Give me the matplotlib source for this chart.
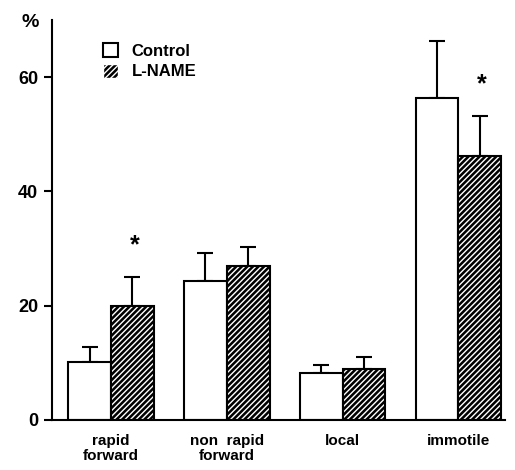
import matplotlib.pyplot as plt
import numpy as np

categories = ["rapid\nforward", "non  rapid\nforward", "local", "immotile"]
control = [10.1, 24.3, 8.2, 56.4]
control_err = [2.6, 5.0, 1.4, 9.9]
lname = [19.9, 27.0, 8.9, 46.2]
lname_err = [5.1, 3.2, 2.1, 7.0]
star_idx = [0, 3]

plt.rcParams['font.family'] = ['Liberation Sans', 'DejaVu Sans']
plt.rcParams['font.weight'] = 'bold'

fig = plt.figure(figsize=(5.15, 4.7), dpi=100)
ax = fig.add_axes([0.101, 0.1064, 0.879, 0.851])

x = np.arange(len(categories))
w = 0.37

ax.bar(x - w / 2, control, w, color='white', edgecolor='black', linewidth=1.5,
       label='Control', zorder=2)
ax.bar(x + w / 2, lname, w, color='black', edgecolor='white', hatch='//////',
       linewidth=0, zorder=2)
ax.bar(x + w / 2, lname, w, fill=False, edgecolor='black', linewidth=1.5, zorder=3)
# legend proxy for hatched bar
ax.bar([np.nan], [np.nan], color='black', edgecolor='white', hatch='//////',
       label='L-NAME')

ax.errorbar(x - w / 2, control, yerr=[np.zeros(4), control_err], fmt='none',
            ecolor='black', elinewidth=1.5, capsize=6, capthick=1.5, zorder=1)
ax.errorbar(x + w / 2, lname, yerr=[np.zeros(4), lname_err], fmt='none',
            ecolor='black', elinewidth=1.5, capsize=6, capthick=1.5, zorder=1)

for i in star_idx:
    ax.text(x[i] + w / 2 + 0.02, lname[i] + lname_err[i] + 5.5, '*',
            ha='center', va='center', fontsize=18, fontweight='bold')

ax.set_xlim(-0.51, 3.40)
ax.set_ylim(0, 70)
ax.set_yticks([0, 20, 40, 60])
ax.set_yticklabels(['0', '20', '40', '60'], fontsize=13, fontweight='bold')
ax.set_xticks(x)
ax.set_xticklabels(categories, fontsize=11, fontweight='bold', linespacing=1.1)
ax.tick_params(axis='x', length=0, pad=10)
ax.tick_params(axis='y', length=6, width=1.5, direction='out', pad=4)
for s in ['top', 'right']:
    ax.spines[s].set_visible(False)
for s in ['left', 'bottom']:
    ax.spines[s].set_linewidth(1.5)

fig.text(0.058, 0.952, '%', fontsize=14, fontweight='bold',
         ha='center', va='center')

ax.legend(loc='upper left', bbox_to_anchor=(0.08, 0.98), frameon=False,
          handlelength=0.9, handleheight=0.9, handletextpad=0.8,
          labelspacing=0.3, prop={'weight': 'bold', 'size': 12})

plt.savefig('out.png', dpi=100)
